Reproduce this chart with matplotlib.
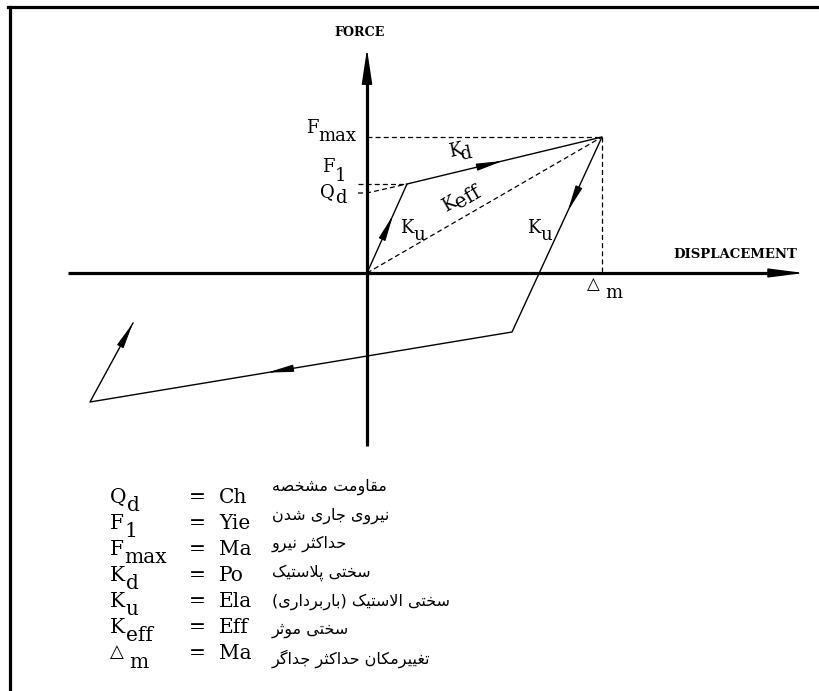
import numpy as np
import matplotlib
matplotlib.use("Agg")
import matplotlib.pyplot as plt
from matplotlib.lines import Line2D
from matplotlib.font_manager import FontProperties

# ---------------- data ----------------
loop_disp = [0, 40, 235, 145, -277, -234]      # displacement of the loop corners
loop_force = [0, 89, 136, -59, -129, -50]      # force of the loop corners
Qd_force = 80                                  # characteristic strength
x_axis_range = [-299, 437]
y_axis_range = [-173, 224]
arrow_fracs = [0.65, 0.49, 0.38, 0.58, 1.0]    # arrow heads along loop segments

sym_main = ["Q", "F", "F", "K", "K", "K", "\u25B3"]
sym_sub = ["d", "1", "max", "d", "u", "eff", "m"]
eng_words = ["Ch", "Yie", "Ma", "Po", "Ela", "Eff", "Ma"]
fa_words = ["مقاومت مشخصه", "نیروی جاری شدن", "حداکثر نیرو", "سختی پلاستیک",
            "سختی الاستیک (باربرداری)", "سختی موثر", "تغییرمکان حداکثر جداگر"]

# ---------------- Persian shaping (presentation forms + RTL) ----------------
FORMS = {
    'ا': ('\uFE8D', '\uFE8E', None, None),
    'ب': ('\uFE8F', '\uFE90', '\uFE91', '\uFE92'),
    'پ': ('\uFB56', '\uFB57', '\uFB58', '\uFB59'),
    'ت': ('\uFE95', '\uFE96', '\uFE97', '\uFE98'),
    'ث': ('\uFE99', '\uFE9A', '\uFE9B', '\uFE9C'),
    'ج': ('\uFE9D', '\uFE9E', '\uFE9F', '\uFEA0'),
    'ح': ('\uFEA1', '\uFEA2', '\uFEA3', '\uFEA4'),
    'خ': ('\uFEA5', '\uFEA6', '\uFEA7', '\uFEA8'),
    'د': ('\uFEA9', '\uFEAA', None, None),
    'ر': ('\uFEAD', '\uFEAE', None, None),
    'س': ('\uFEB1', '\uFEB2', '\uFEB3', '\uFEB4'),
    'ش': ('\uFEB5', '\uFEB6', '\uFEB7', '\uFEB8'),
    'ص': ('\uFEB9', '\uFEBA', '\uFEBB', '\uFEBC'),
    'غ': ('\uFECD', '\uFECE', '\uFECF', '\uFED0'),
    'ق': ('\uFED5', '\uFED6', '\uFED7', '\uFED8'),
    'ک': ('\uFB8E', '\uFB8F', '\uFB90', '\uFB91'),
    'گ': ('\uFB92', '\uFB93', '\uFB94', '\uFB95'),
    'ل': ('\uFEDD', '\uFEDE', '\uFEDF', '\uFEE0'),
    'م': ('\uFEE1', '\uFEE2', '\uFEE3', '\uFEE4'),
    'ن': ('\uFEE5', '\uFEE6', '\uFEE7', '\uFEE8'),
    'ه': ('\uFEE9', '\uFEEA', '\uFEEB', '\uFEEC'),
    'و': ('\uFEED', '\uFEEE', None, None),
    'ی': ('\uFBFC', '\uFBFD', '\uFBFE', '\uFBFF'),
}


def shape(s):
    out = []
    i, n = 0, len(s)
    while i < n:
        c = s[i]
        if c not in FORMS:
            out.append(c)
            i += 1
            continue
        prev = s[i - 1] if i > 0 else ''
        pj = prev in FORMS and FORMS[prev][2] is not None
        if c == 'ل' and i + 1 < n and s[i + 1] == 'ا':
            out.append('\uFEFC' if pj else '\uFEFB')
            i += 2
            continue
        nxt = s[i + 1] if i + 1 < n else ''
        nj = FORMS[c][2] is not None and nxt in FORMS
        iso, fin, ini, med = FORMS[c]
        if pj and nj:
            out.append(med)
        elif pj:
            out.append(fin)
        elif nj:
            out.append(ini)
        else:
            out.append(iso)
        i += 1
    vis = ''.join(reversed(out))
    return vis.translate(str.maketrans('()', ')('))


# ---------------- figure ----------------
W, H = 819, 691
OX, OY = 367, 273
fig = plt.figure(figsize=(W / 100, H / 100), dpi=100)
ax = fig.add_axes([0, 0, 1, 1])
ax.set_xlim(-OX, W - OX)
ax.set_ylim(OY - H, OY)
ax.axis("off")
renderer = fig.canvas.get_renderer()


def at(px, py):
    return px - OX, OY - py


SERIF = ["DejaVu Serif", "DejaVu Sans"]

# frame
fig.add_artist(Line2D([8 / W, 1], [1 - 6.5 / H] * 2, lw=2.3, color="k"))
fig.add_artist(Line2D([10 / W] * 2, [1 - 6.5 / H, 1 - 690 / H], lw=2.3, color="k"))


def arrow(tip, tail, lw, hl, hw):
    ax.annotate("", xy=tip, xytext=tail,
                arrowprops=dict(arrowstyle=f"-|>,head_length={hl},head_width={hw}",
                                lw=lw, color="k", shrinkA=0, shrinkB=0),
                annotation_clip=False)


# coordinate axes
ax.plot([0, 0], [y_axis_range[0], y_axis_range[1] - 20], color="k", lw=2.3,
        solid_capstyle="butt")
arrow((0, y_axis_range[1]), (0, y_axis_range[1] - 30), 1.0, 2.2, 0.33)
ax.plot([x_axis_range[0], x_axis_range[1] - 20], [0, 0], color="k", lw=2.3,
        solid_capstyle="butt")
arrow((x_axis_range[1], 0), (x_axis_range[1] - 30, 0), 1.0, 2.2, 0.28)

# hysteresis loop
ax.plot(loop_disp, loop_force, color="k", lw=1.0)
for i, t in enumerate(arrow_fracs):
    p0 = np.array([loop_disp[i], loop_force[i]], float)
    p1 = np.array([loop_disp[i + 1], loop_force[i + 1]], float)
    tip = p0 + t * (p1 - p0)
    u = (p1 - p0) / np.hypot(*(p1 - p0))
    arrow(tuple(tip), tuple(tip - 22 * u), 0.8, 1.6, 0.22)

# dashed guide lines
dm, Fmax, F1 = loop_disp[2], loop_force[2], loop_force[1]
dash = dict(color="k", lw=0.9, ls=(0, (4, 2.5)))
ax.plot([0, dm], [Fmax, Fmax], **dash)
ax.plot([dm, dm], [Fmax, 0], **dash)
ax.plot([0, dm], [0, Fmax], **dash)
ax.plot([-9, loop_disp[1]], [F1, F1], **dash)
ax.plot([-9, 0, loop_disp[1]], [Qd_force, Qd_force, F1], **dash)

# axis titles
ax.text(*at(360, 33), "FORCE", family=SERIF, weight="bold", fontsize=9.2,
        ha="center", va="center")
ax.text(*at(735, 255), "DISPLACEMENT", family=SERIF, weight="bold", fontsize=9.5,
        ha="center", va="center")


def width_px(s, size):
    fp = FontProperties(family=SERIF, size=size)
    w, h, d = renderer.get_text_width_height_descent(s, fp, ismath=False)
    return w


def sublabel(px, py, main, sub, size, sub_size=None, rot=0.0, drop=7, gap=0.0):
    """main letter with baseline-left at pixel (px,py), large subscript after it."""
    sub_size = sub_size or size
    th = np.deg2rad(rot)
    ax.text(*at(px, py), main, family=SERIF, fontsize=size,
            rotation=rot, rotation_mode="anchor", ha="left", va="baseline")
    dx, dy = width_px(main, size) + gap, drop
    sx = px + dx * np.cos(th) + dy * np.sin(th)
    sy = py - dx * np.sin(th) + dy * np.cos(th)
    ax.text(*at(sx, sy), sub, family=SERIF, fontsize=sub_size, rotation=rot,
            rotation_mode="anchor", ha="left", va="baseline")


# diagram labels
LS = 13
sublabel(306, 133, "F", "max", LS, drop=8)
sublabel(322, 172, "F", "1", LS, drop=9)
sublabel(320, 197, "Q", "d", LS, drop=6, gap=0.5)
sublabel(450, 157, "K", "d", LS, rot=12, drop=5, gap=-3)
sublabel(446, 212, "K", "eff", LS, sub_size=14.5, rot=30, drop=4, gap=-1)
sublabel(400, 233, "K", "u", LS, drop=7, gap=0.5)
sublabel(527, 233, "K", "u", LS, drop=7, gap=0.5)
ax.text(*at(587, 289), "\u25B3", family="DejaVu Sans", fontsize=12,
        ha="left", va="baseline")
ax.text(*at(605, 298), "m", family=SERIF, fontsize=LS, ha="left", va="baseline")

# legend block
for i in range(len(sym_main)):
    base = 503 + 26.0 * i
    size = 14.5
    if sym_main[i] == "\u25B3":
        ax.text(*at(110, base - 2), sym_main[i], family="DejaVu Sans", fontsize=13,
                ha="left", va="baseline")
        ax.text(*at(129, base + 9), sym_sub[i], family=SERIF,
                fontsize=size, ha="left", va="baseline")
    else:
        sublabel(110, base, sym_main[i], sym_sub[i], size, drop=8, gap=0.5)
    ax.text(*at(189, base), "=", family=SERIF, fontsize=size, ha="left",
            va="baseline")
    ax.text(*at(219, base), eng_words[i], family=SERIF, fontsize=size,
            ha="left", va="baseline")
    ax.text(*at(272, 487 + 28.6 * i), shape(fa_words[i]), family="DejaVu Sans",
            fontsize=11.5, ha="left", va="center")

fig.savefig("out.png", dpi=100, facecolor="white")
